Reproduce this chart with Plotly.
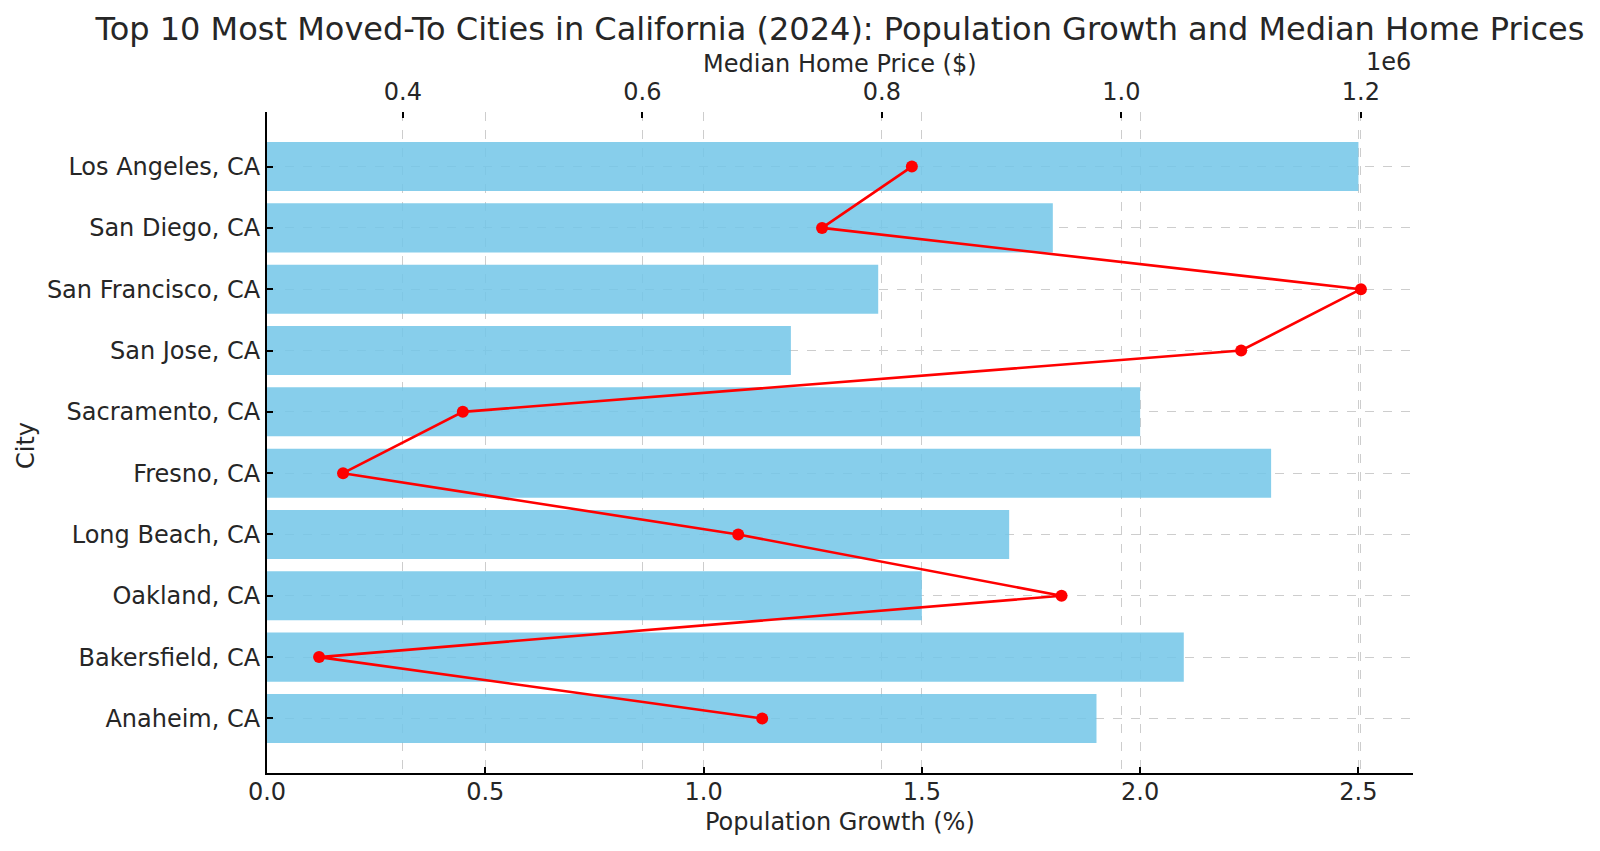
import plotly.graph_objects as go

cities = ["Los Angeles, CA", "San Diego, CA", "San Francisco, CA", "San Jose, CA",
          "Sacramento, CA", "Fresno, CA", "Long Beach, CA", "Oakland, CA",
          "Bakersfield, CA", "Anaheim, CA"]
growth = [2.5, 1.8, 1.4, 1.2, 2.0, 2.3, 1.7, 1.5, 2.1, 1.9]
prices = [825000, 750000, 1200000, 1100000, 450000, 350000, 680000, 950000, 330000, 700000]

growth_ticks = [0.0, 0.5, 1.0, 1.5, 2.0, 2.5]
growth_tick_labels = ["0.0", "0.5", "1.0", "1.5", "2.0", "2.5"]
price_ticks = [400000, 600000, 800000, 1000000, 1200000]
price_tick_labels = ["0.4", "0.6", "0.8", "1.0", "1.2"]

FONT = "DejaVu Sans"
TXT = "#262626"
GRID = "#cdcdcd"

W, H = 1600, 851
ML, MR, MT, MB = 267, 187, 112, 78
PW, PH = W - ML - MR, H - MT - MB


def py(Y):
    return (H - MB - Y) / PH


def px(X):
    return (X - ML) / PW


n = len(cities)
bar_w = 0.8
ypad = 0.05 * (n - 1 + bar_w)
y_range = [n - 1 + bar_w / 2 + ypad, -bar_w / 2 - ypad]
x_range = [0, max(growth) * 1.05]
ppad = 0.05 * (max(prices) - min(prices))
p_range = [min(prices) - ppad, max(prices) + ppad]

fig = go.Figure()
fig.add_trace(go.Bar(
    y=list(range(n)), x=growth, orientation="h", width=bar_w,
    marker=dict(color="rgba(114,197,231,0.85)", line=dict(width=0)),
    xaxis="x", yaxis="y", showlegend=False, hoverinfo="skip",
))
fig.add_trace(go.Scatter(
    y=list(range(n)), x=prices, mode="lines+markers",
    line=dict(color="#ff0000", width=2.6),
    marker=dict(color="#ff0000", size=12),
    xaxis="x2", yaxis="y", showlegend=False,
))

axis_common = dict(
    ticks="inside", ticklen=6, tickwidth=1.6, tickcolor="black",
    showgrid=True, gridcolor=GRID, griddash="dash", gridwidth=1,
    zeroline=False, tickfont=dict(family=FONT, size=24, color=TXT),
)

fig.update_layout(
    width=W, height=H,
    paper_bgcolor="white", plot_bgcolor="white",
    margin=dict(l=ML, r=MR, t=MT, b=MB, pad=0),
    font=dict(family=FONT, size=24, color=TXT),
    title=dict(
        text="Top 10 Most Moved-To Cities in California (2024): Population Growth and Median Home Prices",
        x=0.5, xref="paper", xanchor="center",
        y=1 - 29 / H, yref="container", yanchor="middle",
        font=dict(family=FONT, size=32, color=TXT),
    ),
    xaxis=dict(
        range=x_range, tickvals=growth_ticks, ticktext=growth_tick_labels,
        showline=True, linecolor="black", linewidth=2, mirror=False,
        ticklabelstandoff=-4,
        **axis_common,
    ),
    xaxis2=dict(
        range=p_range, tickvals=price_ticks, ticktext=price_tick_labels,
        overlaying="x", side="top", anchor="y",
        showline=False, ticklabelstandoff=6,
        **axis_common,
    ),
    yaxis=dict(
        range=y_range, tickmode="array", tickvals=list(range(n)), ticktext=cities,
        showline=True, linecolor="black", linewidth=2,
        **axis_common,
    ),
    annotations=[
        dict(text="1e6", xref="paper", yref="paper", x=1.0, y=py(62),
             xanchor="right", yanchor="middle", showarrow=False,
             font=dict(family=FONT, size=24, color=TXT)),
        dict(text="Median Home Price ($)", xref="paper", yref="paper", x=0.5, y=py(64),
             xanchor="center", yanchor="middle", showarrow=False,
             font=dict(family=FONT, size=24, color=TXT)),
        dict(text="Population Growth (%)", xref="paper", yref="paper", x=0.5, y=py(822),
             xanchor="center", yanchor="middle", showarrow=False,
             font=dict(family=FONT, size=24, color=TXT)),
        dict(text="City", xref="paper", yref="paper", x=px(26), y=py(446),
             xanchor="center", yanchor="middle", showarrow=False, textangle=-90,
             font=dict(family=FONT, size=24, color=TXT)),
    ],
)

fig.write_html("out.html", config={"displayModeBar": False},
               post_script="document.body.style.margin='0px';")
